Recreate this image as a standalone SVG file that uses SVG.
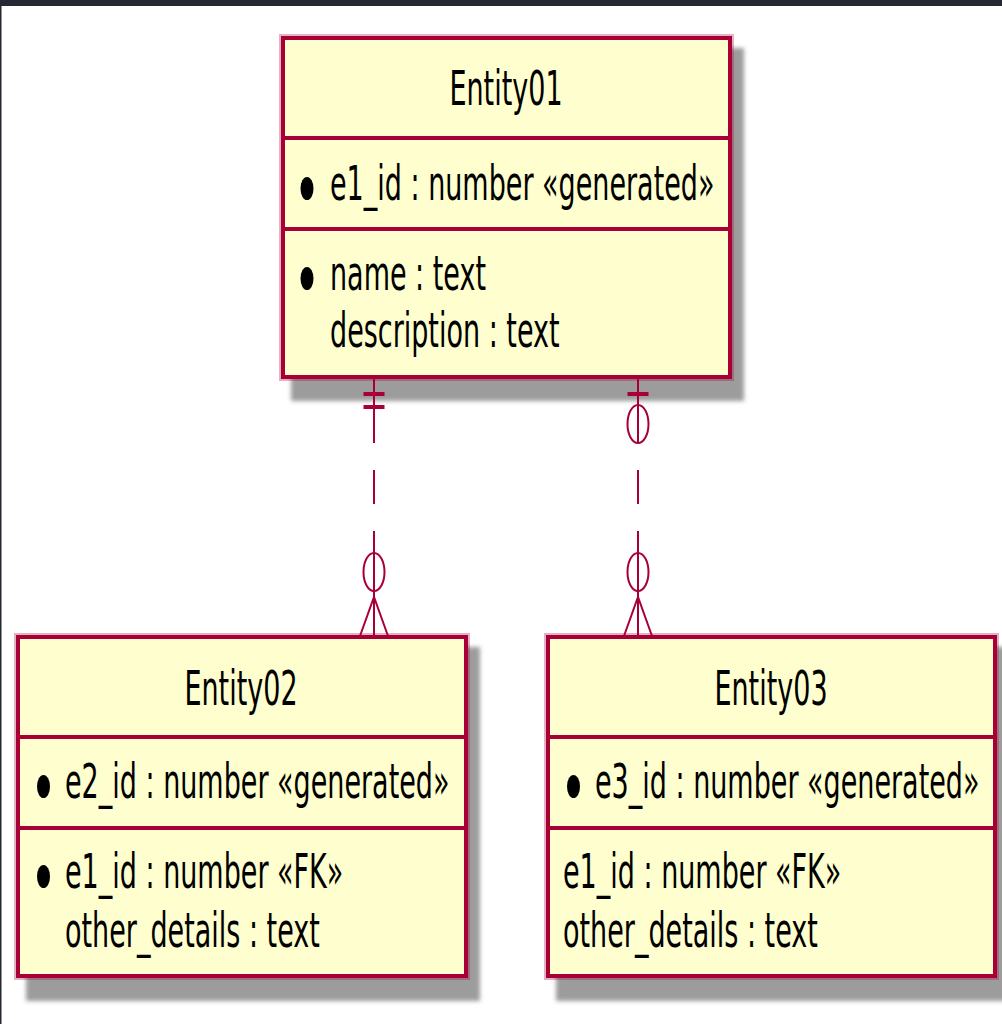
<svg xmlns="http://www.w3.org/2000/svg" width="1002" height="1024" viewBox="0 0 1002 1024">
<style>
.box{fill:#FEFECE;stroke:#A80036;stroke-width:4}
.halo{fill:none;stroke:#A80036;stroke-width:8;stroke-opacity:0.3}
.sep{stroke:#A80036;stroke-width:4}
.shadow{fill:#9C9C9C;filter:url(#blur)}
.t{font-family:"DejaVu Sans","Liberation Sans",sans-serif;font-size:27px;fill:#000}
.title{text-anchor:middle}
.bullet{fill:#000}
.conn line,.conn path{stroke:#A80036;stroke-width:2;fill:none}
.conn .tick{stroke-width:4}
.conn ellipse{fill:none;stroke:#A80036;stroke-width:2}
</style>
<defs>
<filter id="blur" x="-10%" y="-10%" width="120%" height="120%"><feGaussianBlur stdDeviation="2"/></filter>
</defs>
<rect x="0" y="0" width="1002" height="1024" fill="#FFFFFF"/>
<rect x="0" y="0" width="1002" height="6" fill="#262833"/>
<rect x="0" y="0" width="1.5" height="1024" fill="#262833"/>

<g id="Entity01">
<rect class="shadow" x="291" y="48" width="453" height="353"/>
<rect class="halo" x="283" y="38" width="447" height="339"/>
<rect class="box" x="283" y="38" width="447" height="339"/>
<line class="sep" x1="283" y1="138" x2="730" y2="138"/>
<line class="sep" x1="283" y1="229" x2="730" y2="229"/>
<text class="t title" transform="translate(506,105) scale(1,1.8)">Entity01</text>
<ellipse class="bullet" cx="307" cy="188.5" rx="6.5" ry="11.5"/>
<text class="t" transform="translate(330,200) scale(1,1.8)">e1_id : number «generated»</text>
<ellipse class="bullet" cx="307" cy="278.5" rx="6.5" ry="11.5"/>
<text class="t" transform="translate(330,290) scale(1,1.8)">name : text</text>
<text class="t" transform="translate(330,347) scale(1,1.8)">description : text</text>
</g>

<g id="Entity02">
<rect class="shadow" x="26" y="647" width="454" height="354"/>
<rect class="halo" x="18" y="637" width="448" height="339"/>
<rect class="box" x="18" y="637" width="448" height="339"/>
<line class="sep" x1="18" y1="737" x2="466" y2="737"/>
<line class="sep" x1="18" y1="828" x2="466" y2="828"/>
<text class="t title" transform="translate(241,705) scale(1,1.8)">Entity02</text>
<ellipse class="bullet" cx="43.5" cy="786.5" rx="6.5" ry="11.5"/>
<text class="t" transform="translate(65,798) scale(1,1.8)">e2_id : number «generated»</text>
<ellipse class="bullet" cx="43.5" cy="876.5" rx="6.5" ry="11.5"/>
<text class="t" transform="translate(65,888) scale(1,1.8)">e1_id : number «FK»</text>
<text class="t" transform="translate(65,947) scale(1,1.8)">other_details : text</text>
</g>

<g id="Entity03">
<rect class="shadow" x="556" y="647" width="453" height="354"/>
<rect class="halo" x="548" y="637" width="447" height="339"/>
<rect class="box" x="548" y="637" width="447" height="339"/>
<line class="sep" x1="548" y1="737" x2="995" y2="737"/>
<line class="sep" x1="548" y1="828" x2="995" y2="828"/>
<text class="t title" transform="translate(771,705) scale(1,1.8)">Entity03</text>
<ellipse class="bullet" cx="573.5" cy="786.5" rx="6.5" ry="11.5"/>
<text class="t" transform="translate(595,798) scale(1,1.8)">e3_id : number «generated»</text>
<text class="t" transform="translate(563,888) scale(1,1.8)">e1_id : number «FK»</text>
<text class="t" transform="translate(563,947) scale(1,1.8)">other_details : text</text>
</g>

<g id="connectors" class="conn">
<g id="e01-e02">
<line x1="374" y1="379" x2="374" y2="443"/>
<line x1="374" y1="470" x2="374" y2="504"/>
<line x1="374" y1="531" x2="374" y2="636"/>
<line class="tick" x1="363.5" y1="394" x2="384.5" y2="394"/>
<line class="tick" x1="363.5" y1="407" x2="384.5" y2="407"/>
<ellipse cx="374" cy="572" rx="10.5" ry="19"/>
<path d="M360,636 L374,597 L388,636"/>
</g>
<g id="e01-e03">
<line x1="638" y1="379" x2="638" y2="443"/>
<line x1="638" y1="470" x2="638" y2="504"/>
<line x1="638" y1="531" x2="638" y2="636"/>
<line class="tick" x1="627.5" y1="394" x2="648.5" y2="394"/>
<ellipse cx="638" cy="424" rx="10.5" ry="19"/>
<ellipse cx="638" cy="572" rx="10.5" ry="19"/>
<path d="M624,636 L638,597 L652,636"/>
</g>
</g>
</svg>
